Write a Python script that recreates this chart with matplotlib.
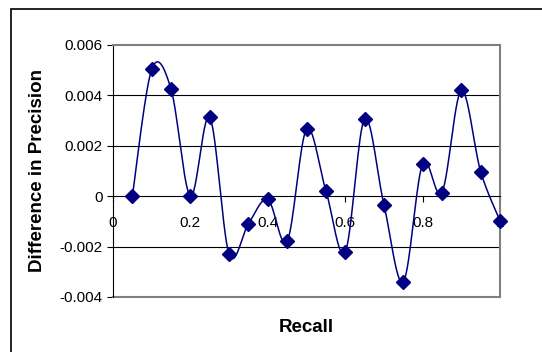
import matplotlib.pyplot as plt
import numpy as np
from matplotlib.patches import Rectangle

# Recall 值和精度差值
recall = [0.05, 0.10, 0.15, 0.20, 0.25, 0.30, 0.35, 0.40, 0.45, 0.50,
          0.55, 0.60, 0.65, 0.70, 0.75, 0.80, 0.85, 0.90, 0.95, 1.00]
diff = [0.0, 0.00503, 0.00425, 0.0, 0.00314, -0.0023, -0.00109, -0.00013, -0.00179, 0.00266,
        0.000225, -0.00222, 0.00307, -0.00033, -0.0034, 0.00128, 0.000146, 0.0042, 0.00098, -0.00097]
xticks = [0, 0.2, 0.4, 0.6, 0.8, 1]
xticklabels = ['0', '0.2', '0.4', '0.6', '0.8', '1']
yticks = [-0.004, -0.002, 0, 0.002, 0.004, 0.006]
yticklabels = ['-0.004', '-0.002', '0', '0.002', '0.004', '0.006']


def smooth(x, y, n=30):
    # Excel 风格平滑线 (Catmull-Rom)
    x = np.asarray(x); y = np.asarray(y)
    px = np.concatenate([[x[0]], x, [x[-1]]])
    py = np.concatenate([[y[0]], y, [y[-1]]])
    xs, ys = [], []
    t = np.linspace(0, 1, n)
    for i in range(1, len(px) - 2):
        p0x, p1x, p2x, p3x = px[i - 1], px[i], px[i + 1], px[i + 2]
        p0y, p1y, p2y, p3y = py[i - 1], py[i], py[i + 1], py[i + 2]
        c1x = p1x + (p2x - p0x) / 6; c1y = p1y + (p2y - p0y) / 6
        c2x = p2x - (p3x - p1x) / 6; c2y = p2y - (p3y - p1y) / 6
        bx = (1-t)**3*p1x + 3*(1-t)**2*t*c1x + 3*(1-t)*t**2*c2x + t**3*p2x
        by = (1-t)**3*p1y + 3*(1-t)**2*t*c1y + 3*(1-t)*t**2*c2y + t**3*p2y
        xs.extend(bx); ys.extend(by)
    return np.array(xs), np.array(ys)


plt.rcParams['font.family'] = ['Liberation Sans', 'DejaVu Sans']
fig = plt.figure(figsize=(5.42, 3.52), dpi=100)
fig.patches.append(Rectangle((11 / 542, -0.1), 1.2, 1 - 9 / 352 + 0.1, transform=fig.transFigure,
                             fill=False, edgecolor='black', linewidth=1.2))
ax = fig.add_axes([113 / 542, 1 - 297 / 352, 387 / 542, 252 / 352])

navy = '#000080'
sx, sy = smooth(recall, diff)
ax.plot(sx, sy, color=navy, linewidth=1.1, zorder=3)
ax.plot(recall, diff, linestyle='none', marker='D', markersize=7.5, color=navy, zorder=4, clip_on=False)

ax.set_xlim(0, 1)
ax.set_ylim(-0.004, 0.006)
for g in [-0.002, 0.002, 0.004]:
    ax.axhline(g, color='black', linewidth=0.8, zorder=1)
ax.axhline(-0.004, color='#808080', linewidth=1.5, clip_on=False, zorder=2)

ax.spines['bottom'].set_position(('data', 0))
ax.spines['bottom'].set_color('black')
ax.spines['bottom'].set_linewidth(0.8)
ax.spines['left'].set_color('black')
ax.spines['top'].set_color('#808080')
ax.spines['right'].set_color('#808080')
ax.spines['top'].set_linewidth(1.5)
ax.spines['right'].set_linewidth(1.5)

ax.set_xticks(xticks)
ax.set_xticklabels(xticklabels)
ax.set_yticks(yticks)
ax.set_yticklabels(yticklabels)
ax.tick_params(axis='both', direction='out', length=4, width=0.8, labelsize=11, colors='black')
ax.tick_params(axis='x', pad=10)

ax.set_ylabel('Difference in Precision', fontsize=13.5, fontweight='bold', labelpad=10)
fig.text(306 / 542, 1 - 328 / 352, 'Recall', fontsize=13.5, fontweight='bold', ha='center', va='center')

fig.savefig('out.png', dpi=100)
